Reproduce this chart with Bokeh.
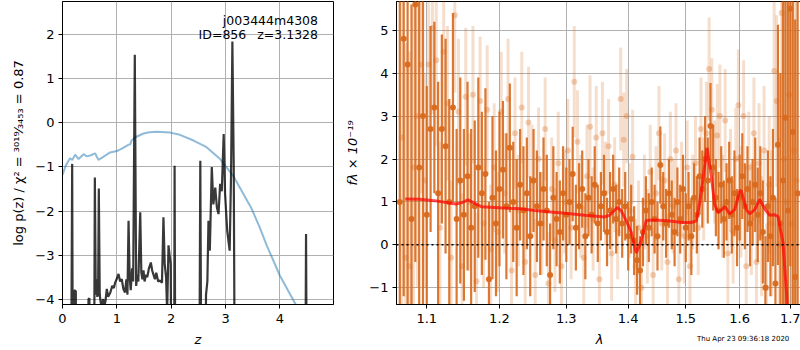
from bokeh.plotting import figure
from bokeh.layouts import row, column
from bokeh.models import (ColumnDataSource, Label, FixedTicker, PrintfTickFormatter,
                          CustomJSTickFormatter, Span, Div)
from bokeh.embed import file_html
from bokeh.resources import INLINE

# ---------------- left panel: log p(z) ----------------
z_pz = [0.000, 0.150, 0.170, 0.178, 0.186, 0.200, 0.212, 0.216, 0.245, 0.250,
        0.470, 0.478, 0.495, 0.505, 0.575, 0.595, 0.612, 0.625, 0.640, 0.655,
        0.668, 0.685, 0.700, 0.720, 0.745, 0.770, 0.790, 0.815, 0.840, 0.880,
        0.915, 0.945, 0.970, 0.995, 1.030, 1.060, 1.090, 1.120, 1.150, 1.175,
        1.195, 1.215, 1.235, 1.255, 1.280, 1.300, 1.330, 1.355, 1.375, 1.395,
        1.430, 1.450, 1.470, 1.490, 1.510, 1.535, 1.560, 1.590, 1.625, 1.650,
        1.675, 1.700, 1.725, 1.760, 1.790, 1.830, 1.857, 1.880, 1.905, 1.925,
        1.950, 1.970, 1.990, 2.010, 2.050, 2.062, 2.080, 2.510, 2.535, 2.560,
        2.610, 2.640, 2.665, 2.685, 2.710, 2.746, 2.775, 2.810, 2.840, 2.870,
        2.900, 2.930, 2.965, 2.990, 3.030, 3.075, 3.100, 3.125, 3.150, 3.175,
        4.460, 4.480, 4.500, 4.980]
logpz = [-8, -8, -3.0, -0.93, -4.5, -8, -8, -3.8, -3.82, -8,
         -8, -4.0, -3.98, -8, -8, -1.24, -3.9, -3.55, -3.95, -3.85,
         -1.49, -3.9, -4.05, -4.2, -4.0, -4.15, -4.05, -3.77, -3.95, -3.85,
         -3.7, -3.75, -3.62, -3.55, -3.43, -3.6, -3.55, -3.77, -3.85, -3.55,
         -3.9, -2.22, -3.5, -3.8, -3.3, -3.6, 1.55, -3.7, -3.45, -3.6,
         -2.03, -3.4, -3.55, -3.35, -3.6, -3.45, -3.5, -3.3, -3.17, -3.35,
         -3.45, -3.55, -3.4, -3.6, -3.58, -3.63, -2.14, -3.2, -3.5, -4.3,
         -2.78, -3.0, -3.2, -8, -8, -0.97, -8, -8, -0.86, -8,
         -8, -3.9, -3.6, -2.22, -2.9, -1.0, -1.85, -1.47, -1.92, -2.07,
         -1.38, -1.55, -0.25, -1.6, -2.45, -2.9, -1.2, 1.85, -1.0, -8,
         -8, -2.52, -8, -8]

z_chi = [0.00, 0.05, 0.10, 0.14, 0.18, 0.233, 0.295, 0.387, 0.45, 0.51,
         0.60, 0.66, 0.75, 0.876, 1.00, 1.10, 1.21, 1.25, 1.27, 1.35,
         1.49, 1.60, 1.73, 1.98, 2.16, 2.41, 2.65, 2.90, 3.14, 3.30,
         3.48, 3.62, 3.76, 4.00, 4.28, 4.40]
chi_curve = [-1.18, -1.0, -0.88, -0.8, -0.84, -0.72, -0.82, -0.71, -0.76, -0.74,
             -0.69, -0.84, -0.77, -0.67, -0.64, -0.58, -0.50, -0.48, -0.40, -0.32,
             -0.24, -0.21, -0.20, -0.22, -0.27, -0.40, -0.55, -0.82, -1.2, -1.55,
             -1.95, -2.35, -2.79, -3.47, -4.1, -4.4]

z_ticks = [0, 1, 2, 3, 4]
pz_ticks = [-4, -3, -2, -1, 0, 1, 2]

# ---------------- right panel: spectrum ----------------
wave_a = [1.065, 1.070, 1.075, 1.080, 1.085, 1.090, 1.095, 1.100, 1.105, 1.110,
          1.115, 1.120, 1.125, 1.130, 1.135, 1.140, 1.145, 1.150, 1.155, 1.160,
          1.165, 1.170, 1.175, 1.180, 1.185, 1.190, 1.195, 1.200, 1.205, 1.210,
          1.215, 1.220, 1.225, 1.230, 1.235, 1.240, 1.245, 1.250, 1.255, 1.260,
          1.265, 1.270, 1.275, 1.280, 1.285, 1.290, 1.295, 1.300, 1.305, 1.310,
          1.315, 1.320, 1.325, 1.330, 1.335, 1.340, 1.345, 1.350, 1.355, 1.360,
          1.365, 1.370, 1.375, 1.380, 1.385, 1.390, 1.395, 1.400, 1.405, 1.410,
          1.415, 1.420, 1.425, 1.430, 1.435, 1.440, 1.445, 1.450, 1.455, 1.460,
          1.465, 1.470, 1.475, 1.480, 1.485, 1.490, 1.495, 1.500, 1.505, 1.510,
          1.515, 1.520, 1.525, 1.530, 1.535, 1.540, 1.545, 1.550, 1.555, 1.560,
          1.565, 1.570, 1.575, 1.580, 1.585, 1.590, 1.595, 1.600, 1.605, 1.610,
          1.615, 1.620, 1.625, 1.630, 1.635, 1.640, 1.645, 1.650, 1.655, 1.660,
          1.665, 1.670, 1.675, 1.680, 1.685, 1.690, 1.695, 1.700, 1.705, 1.710,
          1.715]
flux_a = [1.0, 4.8, 4.2, 0.6, 5.6, 1.8, 3.0, 0.7, 2.7, 3.2,
          1.2, 2.7, 2.3, 1.0, 3.2, 0.6, 1.5, 0.7, 1.6, 0.4,
          0.9, 1.8, 1.2, 1.65, -0.8, 1.1, 0.5, 1.3, 1.75, 0.9,
          2.26, 1.0, 0.4, 1.4, 0.8, 1.2, 0.2, 1.5, 0.9, 0.5,
          1.3, 0.8, -0.7, 1.1, 0.6, 0.3, 1.2, 0.7, 1.0, 1.65,
          0.4, 0.9, 1.3, 0.2, 1.1, 0.7, 1.4, 0.5, 0.9, 1.2,
          0.3, 0.8, 1.3, 0.6, 1.0, 0.5, 0.9, 0.2, 0.6, 0.1,
          -0.36, -0.6, 0.3, 0.8, 0.4, 1.0, 0.6, 0.2, 1.86, 0.9,
          0.5, 1.2, 0.7, 0.3, 1.0, 0.6, 1.3, 0.4, 0.9, 0.2,
          1.1, 0.7, 1.6, 1.3, 2.0, 1.5, 2.77, 1.8, 1.1, 0.8,
          1.4, 0.6, 1.0, 1.5, 0.7, 1.2, 0.4, 1.1, 1.6, 0.9,
          1.3, 0.5, 1.0, 1.4, 0.7, 1.2, 0.3, -1.0, 0.9, 0.2,
          1.1, -0.9, 2.33, 0.5, 1.5, 2.96, 0.8, 5.5, 2.63, -0.75,
          1.2]
err_a = [6, 6, 6, 5, 6, 4, 4.5, 3.0, 2.4, 2.0,
         2.6, 2.2, 2.5, 2.4, 2.2, 2.1, 2.4, 2.0, 2.2, 2.3,
         2.0, 2.1, 1.9, 2.0, 1.8, 1.9, 1.7, 1.8, 1.6, 1.7,
         1.5, 1.4, 1.6, 1.3, 1.5, 1.3, 1.4, 1.2, 1.3, 1.2,
         1.2, 1.3, 1.2, 1.2, 1.1, 1.2, 1.1, 1.1, 1.0, 1.1,
         1.0, 1.0, 0.9, 1.0, 0.9, 0.9, 0.9, 0.9, 0.8, 0.9,
         0.8, 0.9, 0.8, 0.8, 0.8, 0.8, 0.8, 0.8, 0.8, 0.8,
         0.8, 0.8, 0.8, 0.8, 0.8, 0.8, 0.8, 0.8, 0.9, 0.8,
         0.8, 0.8, 0.8, 0.8, 0.8, 0.8, 0.8, 0.8, 0.8, 0.9,
         0.8, 0.9, 0.9, 0.9, 1.0, 1.0, 1.0, 1.0, 0.9, 0.9,
         0.9, 0.9, 0.9, 0.9, 0.9, 1.0, 0.9, 1.0, 1.0, 1.0,
         1.0, 1.0, 1.0, 1.1, 1.1, 1.1, 1.2, 1.2, 1.3, 1.4,
         1.6, 2.0, 2.8, 3.5, 4.5, 5, 6, 6, 6, 6,
         6]

wave_b = [1.0675, 1.0725, 1.0775, 1.0825, 1.0875, 1.0925, 1.0975, 1.1025, 1.1075, 1.1125,
          1.1175, 1.1225, 1.1275, 1.1325, 1.1375, 1.1425, 1.1475, 1.1525, 1.1575, 1.1625,
          1.1675, 1.1725, 1.1775, 1.1825, 1.1875, 1.1925, 1.1975, 1.2025, 1.2075, 1.2125,
          1.2175, 1.2225, 1.2275, 1.2325, 1.2375, 1.2425, 1.2475, 1.2525, 1.2575, 1.2625,
          1.2675, 1.2725, 1.2775, 1.2825, 1.2875, 1.2925, 1.2975, 1.3025, 1.3075, 1.3125,
          1.3175, 1.3225, 1.3275, 1.3325, 1.3375, 1.3425, 1.3475, 1.3525, 1.3575, 1.3625,
          1.3675, 1.3725, 1.3775, 1.3825, 1.3875, 1.3925, 1.3975, 1.4025, 1.4075, 1.4125,
          1.4175, 1.4225, 1.4275, 1.4325, 1.4375, 1.4425, 1.4475, 1.4525, 1.4575, 1.4625,
          1.4675, 1.4725, 1.4775, 1.4825, 1.4875, 1.4925, 1.4975, 1.5025, 1.5075, 1.5125,
          1.5175, 1.5225, 1.5275, 1.5325, 1.5375, 1.5425, 1.5475, 1.5525, 1.5575, 1.5625,
          1.5675, 1.5725, 1.5775, 1.5825, 1.5875, 1.5925, 1.5975, 1.6025, 1.6075, 1.6125,
          1.6175, 1.6225, 1.6275, 1.6325, 1.6375, 1.6425, 1.6475, 1.6525, 1.6575, 1.6625,
          1.6675, 1.6725, 1.6775, 1.6825, 1.6875, 1.6925, 1.6975, 1.7025, 1.7075, 1.7125]
flux_b = [2.5, -0.3, -0.5, 1.8, 3.0, 4.2, 1.5, 4.2, 5.05, 4.3,
          0.4, 4.5, 3.3, -0.3, 5.35, 3.1, -0.5, 3.45, 1.0, 3.5,
          -0.85, 3.35, 0.5, 3.15, -0.1, 1.8, 0.3, 3.1, 1.2, 3.4,
          -0.6, 2.6, 0.8, 3.2, -0.4, 2.85, 1.5, -0.7, 2.0, 0.5,
          2.7, -0.9, 1.3, 0.1, 1.9, -0.5, 1.0, 2.2, 0.4, 3.8,
          2.4, 0.9, -0.3, 1.6, 2.75, 0.6, 2.5, -0.8, 2.6, 1.2,
          2.3, -0.2, 1.4, 0.3, 3.4, 2.45, 3.0, 0.8, 2.05, -0.5,
          0.4, -1.0, 1.0, 0.2, 1.7, -0.7, 1.2, 2.6, 0.5, 1.5,
          -0.4, 2.0, 0.9, 2.2, -0.8, 1.3, 0.2, 1.8, -0.5, 1.0,
          1.9, 0.4, 2.7, 1.3, 2.6, 4.1, 3.15, 1.7, 2.55, 3.0,
          0.9, 2.9, -0.2, 1.5, 0.3, 2.0, 3.25, 1.0, 3.0, -0.5,
          1.8, 0.6, 2.6, -0.4, 1.9, 0.2, 2.2, -1.0, 1.4, 0.5,
          4.05, 3.35, 0.0, 5.4, 2.0, 1.0, 3.5, 0.5, 2.2, 1.5]
err_b = [5, 5, 5, 4, 4, 3, 2.5, 2.2, 2.0, 2.0,
         2.0, 1.8, 1.8, 1.8, 1.8, 1.7, 1.7, 1.6, 1.6, 1.6,
         1.6, 1.5, 1.5, 1.5, 1.5, 1.5, 1.4, 1.4, 1.4, 1.4,
         1.4, 1.3, 1.3, 1.3, 1.3, 1.3, 1.3, 1.3, 1.2, 1.2,
         1.2, 1.2, 1.2, 1.2, 1.2, 1.2, 1.2, 1.2, 1.2, 1.3,
         1.2, 1.2, 1.2, 1.2, 1.2, 1.2, 1.2, 1.2, 1.2, 1.2,
         1.1, 1.1, 1.1, 1.1, 1.2, 1.1, 1.1, 1.1, 1.1, 1.1,
         1.1, 1.1, 1.1, 1.1, 1.1, 1.1, 1.1, 1.1, 1.1, 1.1,
         1.1, 1.1, 1.1, 1.1, 1.1, 1.1, 1.1, 1.1, 1.1, 1.1,
         1.1, 1.1, 1.2, 1.2, 1.2, 1.2, 1.2, 1.2, 1.2, 1.2,
         1.2, 1.2, 1.2, 1.2, 1.2, 1.2, 1.3, 1.3, 1.3, 1.3,
         1.3, 1.3, 1.3, 1.4, 1.4, 1.4, 1.5, 1.5, 1.6, 1.7,
         1.8, 2.0, 2.5, 3, 4, 5, 5, 6, 6, 6]

wave_model = [1.0719, 1.0904, 1.110, 1.1326, 1.1394, 1.1485, 1.1554, 1.1623, 1.1741, 1.1929,
              1.2121, 1.2317, 1.2515, 1.2715, 1.3024, 1.3287, 1.361, 1.3692, 1.3818, 1.3885,
              1.3969, 1.4052, 1.4136, 1.421, 1.4306, 1.445, 1.4682, 1.4919, 1.5099, 1.519,
              1.5251, 1.5311, 1.5385, 1.5466, 1.5527, 1.5589, 1.5683, 1.5715, 1.5809, 1.5904,
              1.600, 1.6027, 1.6129, 1.6193, 1.6291, 1.6388, 1.6487, 1.6586, 1.6686, 1.6753,
              1.6852, 1.6922, 1.700]
flux_model = [1.07, 1.06, 1.03, 0.97, 0.95, 0.99, 1.05, 0.99, 0.89, 0.87,
              0.85, 0.84, 0.80, 0.77, 0.73, 0.69, 0.65, 0.69, 0.87, 0.79,
              0.56, 0.29, -0.19, 0.05, 0.57, 0.58, 0.56, 0.52, 0.52, 0.56,
              0.98, 1.52, 2.26, 1.6, 0.94, 0.75, 0.84, 0.90, 0.72, 0.82,
              1.25, 1.27, 0.82, 0.72, 0.82, 1.06, 0.84, 0.69, 0.70, 0.66,
              0.05, -1.1, -3.0]

wave_ticks = [1.1, 1.2, 1.3, 1.4, 1.5, 1.6, 1.7]
flux_ticks = [-1, 0, 1, 2, 3, 4, 5]

FONT = "DejaVu Sans"
DARK = "#d8691c"
minus_fmt = "return tick < 0 ? '\u2212' + Math.abs(tick) : String(tick);"


def style(p):
    p.outline_line_color = "black"
    p.outline_line_width = 1
    p.outline_line_alpha = 1
    p.background_fill_color = "white"
    p.border_fill_color = "white"
    for ax in p.xaxis + p.yaxis:
        ax.major_label_text_font = FONT
        ax.major_label_text_font_size = "13px"
        ax.major_label_text_color = "black"
        ax.axis_label_text_font = FONT
        ax.axis_label_text_font_size = "13px"
        ax.axis_label_text_color = "black"
        ax.axis_line_color = "black"
        ax.major_tick_line_color = "black"
        ax.major_tick_out = 4
        ax.major_tick_in = 0
        ax.minor_tick_line_color = None
    for ax in p.xaxis:
        ax.major_label_standoff = 5
        ax.axis_label_standoff = 6
    for ax in p.yaxis:
        ax.major_label_standoff = 4
        ax.axis_label_standoff = 6
    for g in p.xgrid + p.ygrid:
        g.grid_line_color = "#b0b0b0"
        g.grid_line_width = 1


# ---- left figure
p1 = figure(frame_width=271, frame_height=303, x_range=(0, 4.985), y_range=(-4.123, 2.757),
            output_backend="svg", toolbar_location=None,
            min_border_left=62, min_border_right=9, min_border_top=1, min_border_bottom=46)
style(p1)
p1.xaxis.ticker = FixedTicker(ticks=z_ticks)
p1.yaxis.ticker = FixedTicker(ticks=pz_ticks)
p1.yaxis.formatter = CustomJSTickFormatter(code=minus_fmt)
p1.xaxis.axis_label = "z"
p1.xaxis.axis_label_text_font_style = "italic"
p1.yaxis.axis_label = "log p(z) / \u03c7\u00b2 = \u00b3\u2070\u00b9\u2079\u2044\u2083\u2084\u2085\u2083 = 0.87"
p1.yaxis.axis_label_text_font_style = "normal"

p1.line(z_chi, chi_curve, line_color="#1f77b4", line_alpha=0.5, line_width=2)
p1.line(z_pz, logpz, line_color="black", line_alpha=0.78, line_width=2.2)

for txt, xx, yy in [("j003444m4308", 4.70, 2.33), ("ID=856", 3.38, 2.0), ("z=3.1328", 4.70, 2.0)]:
    p1.add_layout(Label(x=xx, y=yy, text=txt, text_align="right", text_baseline="middle",
                        text_font=FONT, text_font_size="12.5px", text_color="black"))

# ---- right figure
p2 = figure(frame_width=406, frame_height=303, x_axis_type="log",
            x_range=(1.0608, 1.725), y_range=(-1.39, 5.67),
            output_backend="svg", toolbar_location=None,
            min_border_left=50, min_border_right=2, min_border_top=1, min_border_bottom=46)
style(p2)
p2.xaxis.ticker = FixedTicker(ticks=wave_ticks)
p2.xaxis.formatter = PrintfTickFormatter(format="%.1f")
p2.yaxis.ticker = FixedTicker(ticks=flux_ticks)
p2.yaxis.formatter = CustomJSTickFormatter(code=minus_fmt)
p2.xaxis.axis_label = "\u03bb"
p2.xaxis.axis_label_text_font_style = "italic"
p2.yaxis.axis_label = "f\u03bb \u00d7 10\u207b\u00b9\u2079"
p2.yaxis.axis_label_text_font_style = "italic"

src_b = ColumnDataSource(dict(x=wave_b, y=flux_b,
                              lo=[f - e for f, e in zip(flux_b, err_b)],
                              hi=[f + e for f, e in zip(flux_b, err_b)]))
src_a = ColumnDataSource(dict(x=wave_a, y=flux_a,
                              lo=[f - e for f, e in zip(flux_a, err_a)],
                              hi=[f + e for f, e in zip(flux_a, err_a)]))

p2.segment(x0="x", y0="lo", x1="x", y1="hi", source=src_b, line_color=DARK,
           line_alpha=0.22, line_width=3)
p2.scatter(x="x", y="y", source=src_b, size=6, fill_color=DARK, line_color=None, fill_alpha=0.3)
p2.segment(x0="x", y0="lo", x1="x", y1="hi", source=src_a, line_color=DARK,
           line_alpha=0.9, line_width=2.2)
p2.scatter(x="x", y="y", source=src_a, size=6, fill_color=DARK, line_color=None, fill_alpha=0.95)
p2.line(wave_model, flux_model, line_color="red", line_alpha=0.7, line_width=3)
p2.add_layout(Span(location=0, dimension="width", line_color="black", line_width=1.5,
                   line_dash="2 3"))

stamp = Div(text="Thu Apr 23 09:36:18 2020", width=100, height=10,
            margin=(-16, 0, 0, 697),
            styles={"font-size": "7px", "font-family": "DejaVu Sans", "color": "black",
                    "line-height": "10px", "white-space": "nowrap"})

layout = column(row(p1, p2), stamp, spacing=0)
open("out.html", "w").write(file_html(layout, INLINE))
